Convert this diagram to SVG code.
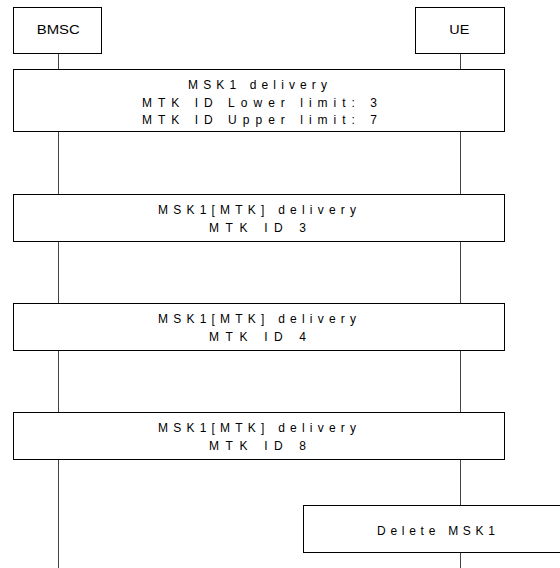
<svg xmlns="http://www.w3.org/2000/svg" width="560" height="568" viewBox="0 0 560 568">
<style>
.box{fill:#fff;stroke:#000;stroke-width:1}
.life{stroke:#444;stroke-width:1;fill:none}
text{font-family:"Liberation Sans",Arial,sans-serif;font-size:12px;fill:#000;text-anchor:middle}
</style>
<rect width="560" height="568" fill="#fff"/>
<g id="connectors">
<line class="life" x1="58.5" y1="53.5" x2="58.5" y2="568"/>
<line class="life" x1="460.5" y1="53.5" x2="460.5" y2="568"/>
</g>
<g id="bmsc">
<rect class="box" x="13.5" y="7.5" width="88" height="46"/>
<text x="58.3" y="33.5" textLength="43" lengthAdjust="spacingAndGlyphs">BMSC</text>
</g>
<g id="ue">
<rect class="box" x="415.5" y="7.5" width="89" height="46"/>
<text x="459.3" y="34" textLength="20" lengthAdjust="spacingAndGlyphs">UE</text>
</g>
<g id="msk1-delivery">
<rect class="box" x="13.5" y="69.5" width="491" height="62"/>
<text x="257.5" y="89" textLength="139" lengthAdjust="spacing">MSK1 delivery</text>
<text x="259.5" y="106.5" textLength="235" lengthAdjust="spacing">MTK ID Lower limit: 3</text>
<text x="259.5" y="124" textLength="235" lengthAdjust="spacing">MTK ID Upper limit: 7</text>
</g>
<g id="mtk-3">
<rect class="box" x="13.5" y="194.5" width="491" height="47"/>
<text x="257" y="214" textLength="198" lengthAdjust="spacing">MSK1[MTK] delivery</text>
<text x="257.5" y="231.5" textLength="97" lengthAdjust="spacing">MTK ID 3</text>
</g>
<g id="mtk-4">
<rect class="box" x="13.5" y="303.5" width="491" height="47"/>
<text x="257" y="323" textLength="198" lengthAdjust="spacing">MSK1[MTK] delivery</text>
<text x="257.5" y="340.5" textLength="97" lengthAdjust="spacing">MTK ID 4</text>
</g>
<g id="mtk-8">
<rect class="box" x="13.5" y="412.5" width="491" height="47"/>
<text x="257" y="432" textLength="198" lengthAdjust="spacing">MSK1[MTK] delivery</text>
<text x="257.5" y="449.5" textLength="97" lengthAdjust="spacing">MTK ID 8</text>
</g>
<g id="delete-msk1">
<rect class="box" x="303.5" y="505.5" width="270" height="47"/>
<text x="436" y="535" textLength="118" lengthAdjust="spacing">Delete MSK1</text>
</g>
</svg>
